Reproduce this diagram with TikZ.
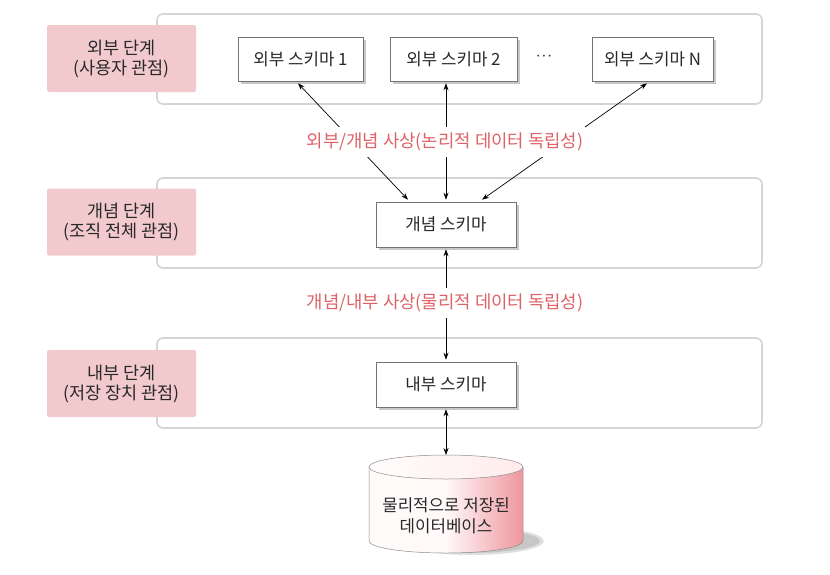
\documentclass[tikz,border=0pt]{standalone}
\usepackage{fontspec}
\setmainfont{Noto Sans CJK KR}
\usetikzlibrary{calc,arrows.meta,shadows}
\definecolor{pinkbox}{RGB}{242,202,205}
\definecolor{labred}{RGB}{222,98,102}
\definecolor{panelgray}{RGB}{212,212,212}
\definecolor{txt}{RGB}{40,40,40}
\begin{document}
\begin{tikzpicture}[x=1pt,y=-1pt,
  panel/.style={draw=panelgray, line width=1.6pt, rounded corners=6pt, fill=white, minimum width=605pt, minimum height=90pt, inner sep=0pt},
  level/.style={fill=pinkbox, rounded corners=2pt, minimum width=149pt, minimum height=67pt, align=center, text=txt, font=\fontsize{17.5}{20}\selectfont, inner sep=0pt},
  schema/.style={draw=black!55, line width=0.6pt, fill=white, minimum height=44pt, inner sep=0pt, text=txt, font=\fontsize{16.8}{19}\selectfont, drop shadow={shadow xshift=3pt, shadow yshift=-3pt, fill=black!22, opacity=1}},
  maplab/.style={fill=white, text=labred, font=\fontsize{17.8}{20}\selectfont, inner xsep=2pt, inner ysep=6pt},
  conn/.style={{Stealth[length=7pt,width=5pt]}-{Stealth[length=7pt,width=5pt]}, line width=0.7pt, black}
]
\useasboundingbox (0,0) rectangle (830,574);
% panels
\node[panel] (p1) at (459.5,59) {};
\node[panel] (p2) at (459.5,223) {};
\node[panel] (p3) at (459.5,383) {};
% level labels
\node[level] (l1) at (121.5,58.5) {외부 단계\\(사용자 관점)};
\node[level] (l2) at (121.5,222) {개념 단계\\(조직 전체 관점)};
\node[level] (l3) at (121.5,383.5) {내부 단계\\(저장 장치 관점)};
% schemas
\node[schema, minimum width=125pt] (s1) at (300.5,59) {외부 스키마 1};
\node[schema, minimum width=127pt] (s2) at (453.5,59) {외부 스키마 2};
\node[schema, minimum width=121pt] (sn) at (652.5,59) {외부 스키마 N};
\node[text=txt, font=\fontsize{18}{20}\selectfont] (dots) at (544,57) {$\cdot\!\cdot\!\cdot$};
\node[schema, minimum width=140pt, minimum height=45pt] (c) at (446,224.5) {개념 스키마};
\node[schema, minimum width=140pt, minimum height=45pt] (i) at (446,384.5) {내부 스키마};
% database cylinder
\fill[black!12] (472,541) ellipse[x radius=72pt, y radius=14pt];
\fill[black!22] (470,541) ellipse[x radius=70pt, y radius=12pt];
\shade[left color=pink!6, right color={rgb,255:red,238;green,150;blue,158}, middle color=pink!10, draw=black!45, line width=0.5pt]
  (369,467) -- (369,541) arc[start angle=180, end angle=360, x radius=77pt, y radius=12pt] -- (523,467) -- cycle;
\shade[left color=pink!4, right color=pink!30, draw=black!45, line width=0.5pt] (446,467) ellipse[x radius=77pt, y radius=12pt];
\coordinate (dbtop) at (446,455);
\node[text=txt, align=center, font=\fontsize{16.8}{21}\selectfont] (db) at (446,516) {물리적으로 저장된\\데이터베이스};
% connectors
\draw[conn] ($(s1.south)+(-2.5,2)$) -- ($(c.north)+(-38,-2)$);
\draw[conn] ($(s2.south)+(-7.5,2)$) -- ($(c.north)+(0,-2)$);
\draw[conn] ($(sn.south)+(-5.5,2)$) -- ($(c.north)+(36,-2)$);
\draw[conn] ($(c.south)+(0,2)$) -- ($(i.north)+(0,-2)$);
\draw[conn] ($(i.south)+(0,2)$) -- (dbtop);
% mapping labels
\node[maplab] (m1) at (445,142) {외부/개념 사상(논리적 데이터 독립성)};
\node[maplab] (m2) at (445,303) {개념/내부 사상(물리적 데이터 독립성)};
\end{tikzpicture}
\end{document}
